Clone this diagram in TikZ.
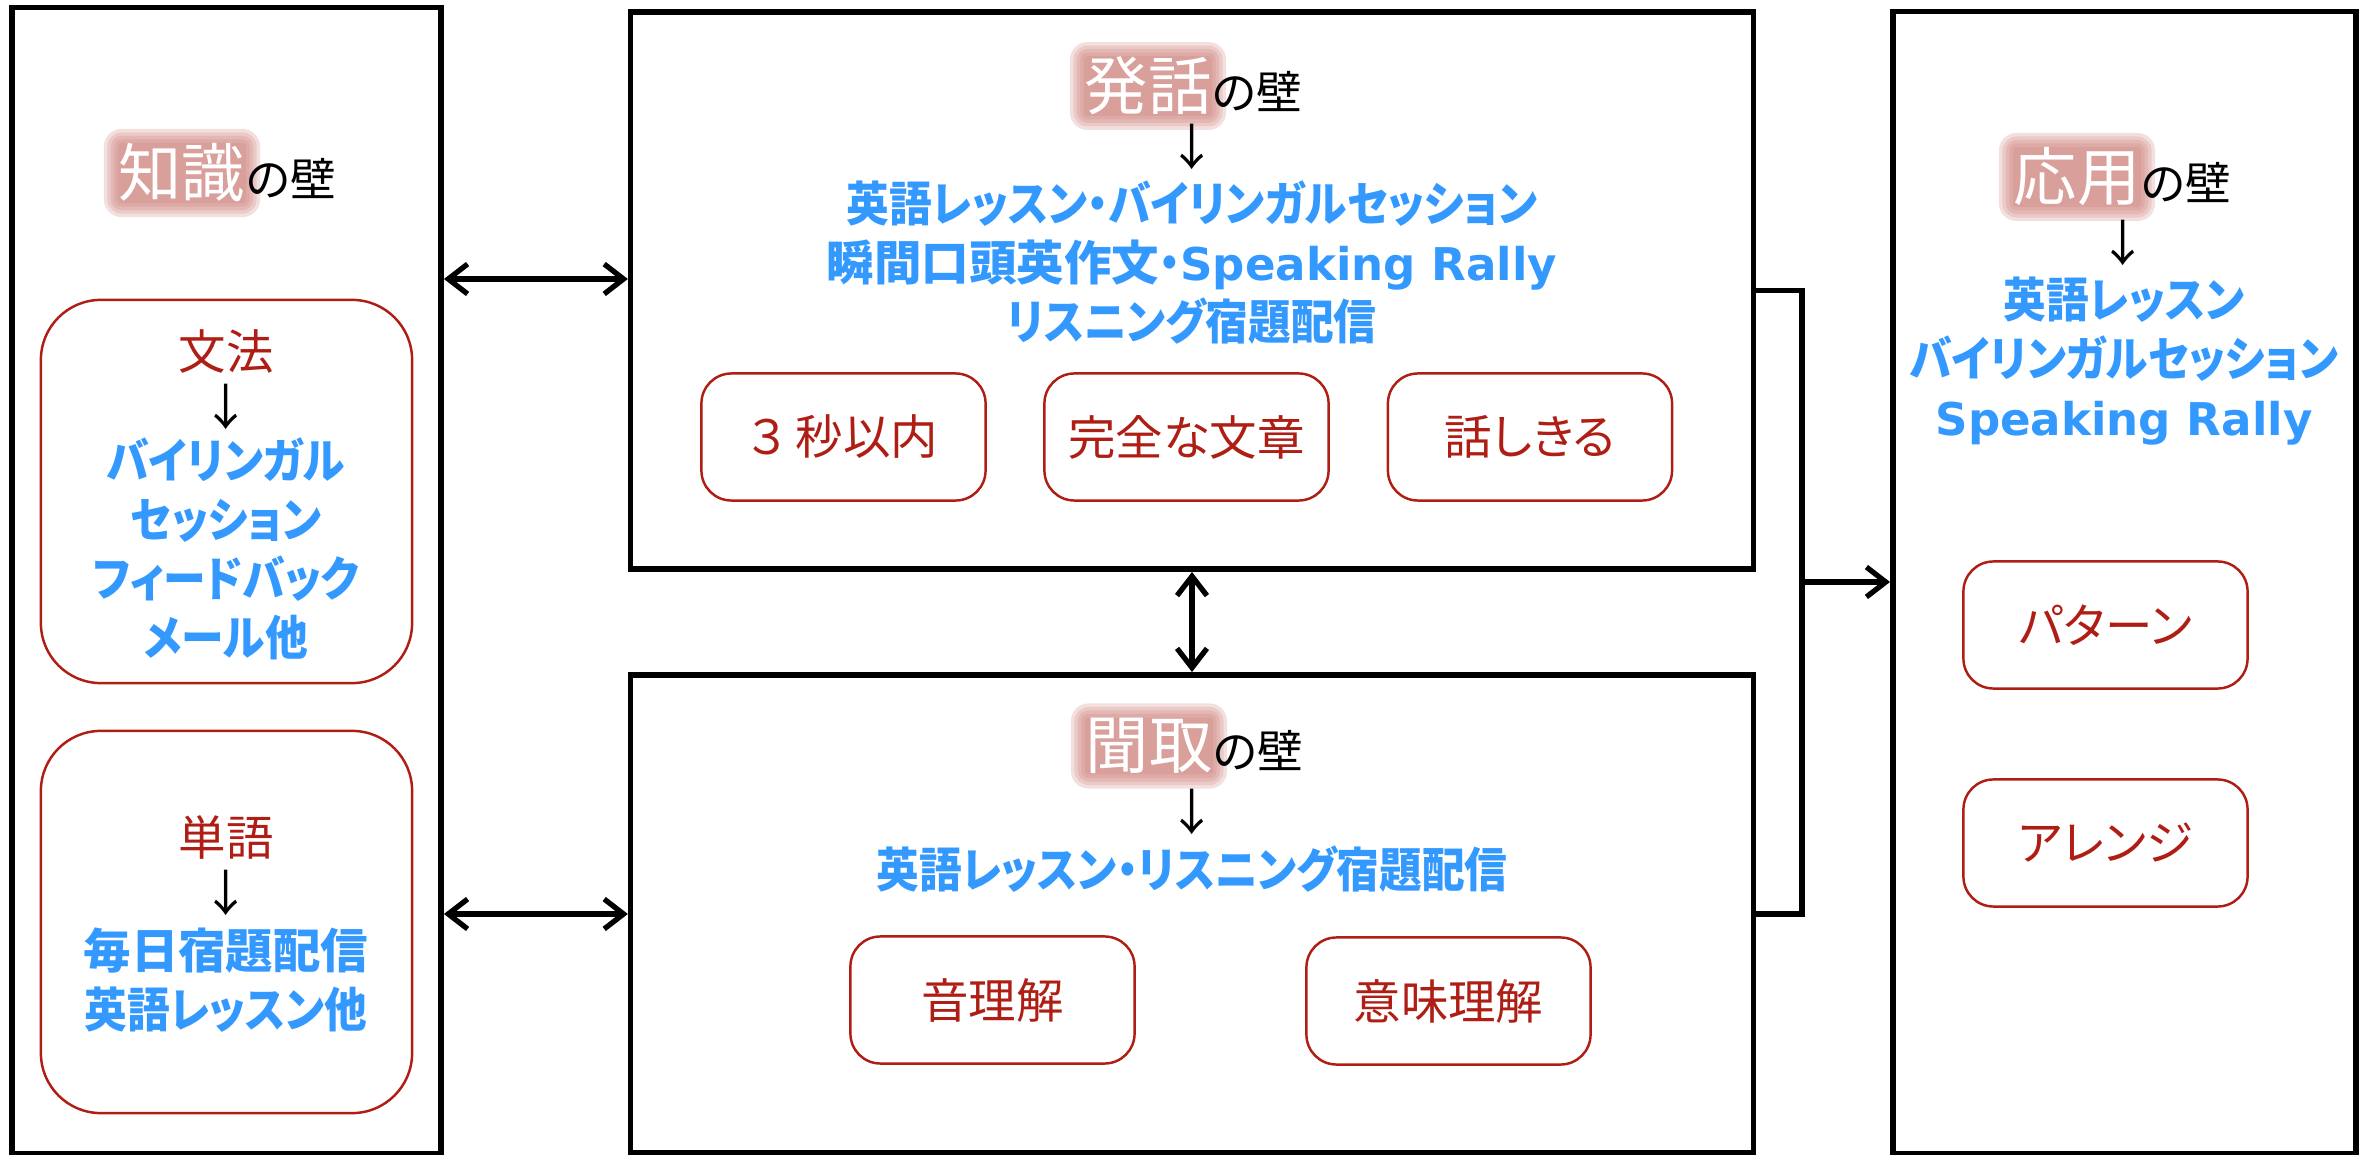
\documentclass[tikz,border=0pt]{standalone}
\usepackage{fontspec}
\setmainfont{Noto Sans CJK JP}[RawFeature=+palt]
\newfontfamily\howfont{Noto Sans CJK JP}[RawFeature=+palt,FakeStretch=0.9]
\newfontfamily\kanjifont{Noto Sans CJK JP}[RawFeature=+palt]
\newfontfamily\latinfont{DejaVu Sans}[Scale=0.95]
\usepackage{tikz}
\usetikzlibrary{arrows.meta,backgrounds}

\definecolor{wallred}{RGB}{175,30,20}
\definecolor{howblue}{RGB}{51,153,255}
\definecolor{glowred}{RGB}{204,126,119}

\newcommand{\en}[1]{{\latinfont #1}}
\newcommand{\kj}[1]{{\kanjifont #1}}

\begin{document}
\begin{tikzpicture}[x=0.01cm,y=-0.01cm,
	wall/.style={draw=black,line width=1.6pt,inner sep=0pt},
	item/.style={draw=wallred,line width=0.7pt,rounded corners=0.3cm,minimum width=2.84cm,minimum height=1.27cm,text=wallred,font=\fontsize{13.5}{16}\selectfont},
	hot/.style={text=white,inner sep=0pt,font=\fontsize{18}{20}\selectfont},
	ofwall/.style={inner sep=0pt,anchor=base west,font=\fontsize{13}{15}\selectfont},
	topic/.style={text=wallred,inner sep=0pt,font=\fontsize{13.5}{16}\selectfont},
	down/.style={inner sep=0pt,font=\fontsize{14}{16}\selectfont},
	how/.style={text=howblue,inner sep=0pt,align=center,font=\howfont\bfseries\fontsize{13.5}{16.8}\selectfont},
	link/.style={line width=1.5pt,>={Straight Barb[length=5.5pt,width=8.5pt]}}]
	\useasboundingbox (0,0) rectangle (2374,1155);

	% the four walls
	\node[wall,minimum width=4.29cm,minimum height=11.45cm] (know)   at (226.5,580.5) {};
	\node[wall,minimum width=11.22cm,minimum height=5.57cm] (speak)  at (1192,290.5)  {};
	\node[wall,minimum width=11.22cm,minimum height=4.78cm] (listen) at (1192,914)    {};
	\node[wall,minimum width=4.63cm,minimum height=11.41cm] (apply)  at (2124.5,582.5) {};

	\node[hot] (knowhot)   at (182,173)  {知識};
	\node[ofwall] at (knowhot.base east)   {の壁};
	\node[hot] (speakhot)  at (1148,86)  {発話};
	\node[ofwall] at (speakhot.base east)  {の壁};
	\node[hot] (listenhot) at (1149,746) {聞取};
	\node[ofwall] at (listenhot.base east) {の壁};
	\node[hot] (applyhot)  at (2077,177) {応用};
	\node[ofwall] at (applyhot.base east)  {の壁};

	\begin{scope}[on background layer]
		\foreach \h in {knowhot,speakhot,listenhot,applyhot}
			\foreach \g in {4,3,2,1,0}
				\fill[glowred,opacity=0.24,rounded corners=\g pt+1pt] ([shift={(-\g pt,\g pt)}]\h.north west) rectangle ([shift={(\g pt,-\g pt)}]\h.south east);
	\end{scope}

	% knowledge
	\node[item,minimum width=3.71cm,minimum height=3.83cm,rounded corners=0.6cm] (grammar) at (226.5,491.5) {};
	\node[topic] at (226,352) {文法};
	\node[down]  at (226,407) {↓};
	\node[how]   at (226,549) {バイリンガル\\セッション\\フィードバック\\メール他};
	\node[item,minimum width=3.71cm,minimum height=3.82cm,rounded corners=0.6cm] (words) at (226.5,922) {};
	\node[topic] at (226,837) {単語};
	\node[down]  at (226,893) {↓};
	\node[how]   at (226,980) {\kj{毎日宿題配信}\\英語レッスン他};

	% speaking
	\node[down] at (1192,147) {↓};
	\node[how]  at (1192,263) {英語レッスン・バイリンガルセッション\\\kj{瞬間口頭英作文}・\en{Speaking Rally}\\リスニング宿題配信};
	\node[item] (fast)   at (843.5,437) {３ 秒以内};
	\node[item] (whole)  at (1186.5,437) {完全な文章};
	\node[item] (finish) at (1530,437) {話しきる};

	% listening
	\node[down] at (1192,812) {↓};
	\node[how]  at (1192,869) {英語レッスン・リスニング宿題配信};
	\node[item] (sound)   at (992.5,1000) {音理解};
	\node[item] (meaning) at (1448.5,1001) {意味理解};

	% applying
	\node[down] at (2123,243) {↓};
	\node[how]  at (2124,361) {英語レッスン\\バイリンガルセッション\\\en{Speaking Rally}};
	\node[item] (pattern) at (2105.5,625) {パターン};
	\node[item] (arrange) at (2105.5,843) {アレンジ};

	\coordinate (upper) at (0,279);
	\coordinate (joint) at (1802,582);
	\path[link,<->] (know.east |- upper) edge (speak.west |- upper);
	\path[link,<->] (know.east |- listen.west) edge (listen.west);
	\path[link,<->] (speak.south) edge (listen.north);
	\draw[link] (speak.east) -| (joint) |- (listen.east);
	\path[link,->] (joint) edge (apply.west |- joint);

\end{tikzpicture}
\end{document}
